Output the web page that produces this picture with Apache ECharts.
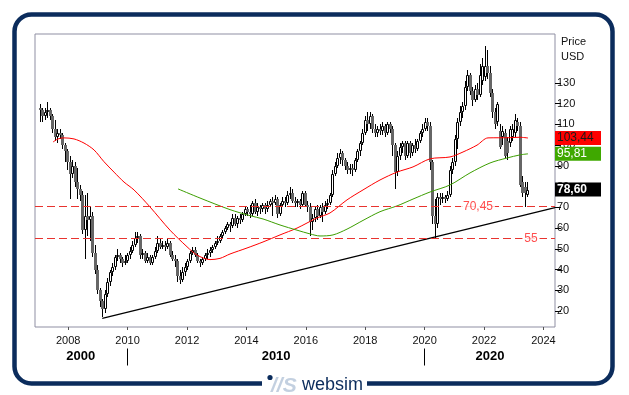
<!DOCTYPE html>
<html><head><meta charset="utf-8">
<script src="https://cdn.jsdelivr.net/npm/echarts@6/dist/echarts.min.js"></script>
<style>html,body{margin:0;padding:0;background:#fff}#c{width:629px;height:395px}</style>
</head><body><div id="c"></div>
<script>
// ---- tick labels ----
const yearTicks = [2008, 2010, 2012, 2014, 2016, 2018, 2020, 2022, 2024];
const priceTicks = [20, 30, 40, 50, 60, 70, 80, 90, 100, 110, 120, 130];
const decadeLabels = ['2000', '2010', '2020'];
const decadePositions = [2008.42, 2015.0, 2022.2];
const decadeSeparators = [2010, 2020];

// ---- monthly candles, Jan 2007 .. Apr 2023 (index 0 = Jan 2007) ----
const opens = [
  118,117,114,116,117,114,108,104,106,105,100,97,
  92,86,90,82,79,76,59,66,64,66,48,40,
  30,25,21,28,34,39,41,46,47,45,43,44,
  47,49,52,55,56,47,48,44,46,43,46,49,
  53,51,52,51,53,47,45,44,37,35,39,41,
  44,48,49.5,47,44,43,45,47,48,49.5,51,53,
  54,56,58,60,62,61,65,62,65,64,67,69,
  68,67,72,68,70,69,71,69,71,73,72,74,
  67,71,73,72,76,77,73,72,73,71,77,71,
  70,63,65,69,66,70,68,71,72,76,86,90,
  94,96,93,90,88,89,88,93,97,101,106,112,
  110,114,108,106,108,107,109,106,110,108,100,87,
  95,99,101,95,101,96,100,98,102,106,108,111,
  109,92,66,62,75,74,75,74,76,88,92,103,
  111,116,119,128,134,126,122,127,124,131,133,138,
  135,125,116,111,107,104,106,102,101,104,106,111,
  109,82,80,76
];
const closes = [
  117,114,116,117,114,108,104,106,105,100,97,92,
  86,90,82,79,76,59,66,64,66,48,40,30,
  25,21,28,34,39,41,46,47,45,43,44,47,
  49,52,55,56,47,48,44,46,43,46,49,53,
  51,52,51,53,47,45,44,37,35,39,41,44,
  48,49.5,47,44,43,45,47,48,49.5,51,53,54,
  56,58,60,62,61,65,62,65,64,67,69,68,
  67,72,68,70,69,71,69,71,73,72,74,67,
  71,73,72,76,77,73,72,73,71,77,71,70,
  63,65,69,66,70,68,71,72,76,86,90,94,
  96,93,90,88,89,88,93,97,101,106,112,110,
  114,108,106,108,107,109,106,110,108,100,87,95,
  99,101,95,101,96,100,98,102,106,108,111,109,
  92,66,62,75,74,75,74,76,88,92,103,111,
  116,119,128,134,126,122,127,124,134,138,138,135,
  125,116,110,120,99,107,95,96,108,108,112,109,
  81,77,77,78.6
];
const lows = [
  111,111,112,113,112,106,102,101,103,98,92,88,
  74,84,80,74,73,57,45,56,54,46,38,28,
  22,17,19,27,32,37,40,44,43,41,42,43,
  45,48,51,53,45,45,43,43,42,42,45,48,
  50,50,49,50,46,44,41,34,33,34,37,40,
  43,47,46,43,41,42,44,45,46,48,50,52,
  53,55,57,59,58,60,61,60,62,63,66,66,
  65,66,67,66,67,68,67,68,70,66,71,65,
  66,70,70,71,74,72,70,70,69,70,70,68,
  56,59,63,64,65,63,67,69,71,75,85,89,
  91,90,88,86,86,85,87,92,95,100,105,107,
  108,106,104,104,105,105,104,105,106,95,79,85,
  93,96,93,94,94,95,96,97,101,104,107,107,
  88,62,55,60,71,72,72,73,75,86,90,98,
  109,113,117,126,124,119,121,122,123,129,131,132,
  123,113,108,109,98,100,94,93,99,102,104,107,
  80,75,70.3,75
];
const highs = [
  120,118,118,121,118,115,112,108,108,106,101,98,
  95,93,92,89,81,78,76,77,70,68,52,42,
  31,26,30,36,40,43,47,50,48,46,47,48,
  51,54,58,58,57,50,49,48,47,47,51,56,
  55,54,54,55,54,49,47,45,40,41,43,45,
  49,51,51,48,45,46,48,50,51,52,54,56,
  57,59,61,63,63,67,67,66,67,68,70,70,
  71,73,74,72,71,72,72,73,74,75,76,75,
  72,75,75,78,80,79,75,74,74,78,78,73,
  72,67,70,71,71,72,73,74,77,88,92,96,
  98,97,94,92,91,91,94,98,102,108,114,116,
  116,115,110,109,110,111,110,111,111,109,101,97,
  101,102,102,102,102,101,103,103,107,110,113,113,
  111,93,74,77,77,77,76,78,90,94,105,113,
  119,121,131,136,135,128,129,130,139,142,148,146,
  138,127,118,121,110,109,108,104,109,110,115,113,
  111,85,82,82
];

// ---- moving averages [month index, value] ----
const maRed = [
  [5.4,101.5],[7.4,103],[9.8,103.5],[13.8,103],[17.8,101],[21.8,97.7],[25.8,92],
  [29.8,87],[33.8,82.2],[37.8,78.4],[44.2,70.2],[52.2,59],[59,51],[63,47],
  [68.2,44.8],[72.2,45.4],[76.2,47.5],[83,50.4],[89.4,53.3],[96.2,56.7],[103,60],
  [111,64.9],[116.2,67.3],[123,73.6],[129.4,78.4],[136.2,83.2],[143,87],
  [149.4,89.5],[156.2,93.4],[164.2,94.3],[169.4,96.7],[175,100],[179.4,103.5],
  [188.2,103.6],[192.2,103.8],[195.4,103.44]
];
const maGreen = [
  [55.4,78.9],[64.2,74.5],[76.2,68.9],[84.2,66],[89.4,64.4],[96.2,61.5],[103,59],
  [108.2,57.2],[112.2,56.2],[117.4,56.7],[123,59.5],[129.4,63.7],[136.2,67.9],
  [143,70.7],[149.4,74],[156.2,77.4],[164.2,80.8],[172.2,86.6],[180.2,91.4],
  [187,93.8],[192.2,95.3],[195.4,95.81]
];
const trendLine = [[25.1,16.5],[206.2,69.9]];
const supportLevels = [70.45, 55];
const supportLabelPos = [175.4, 196.6];
const lastRed = 103.44;
const lastGreen = 95.81;
const lastClose = 78.60;

const FONT = '"Liberation Sans", Arial, sans-serif';
const fmt = v => v.toFixed(2).replace('.', ',');
const candles = opens.map((o, i) => [i, o, closes[i], lows[i], highs[i]]);

function renderCandle(params, api) {
  const xi = api.value(0);
  const pO = api.coord([xi, api.value(1)]);
  const pC = api.coord([xi, api.value(2)]);
  const pL = api.coord([xi, api.value(3)]);
  const pH = api.coord([xi, api.value(4)]);
  const n = Math.round(pO[0]);
  const xc = n + 0.5;
  const up = api.value(2) >= api.value(1);
  const top = Math.round(Math.min(pO[1], pC[1]));
  const bot = Math.max(Math.round(Math.max(pO[1], pC[1])), top + 1);
  const children = [{
    type: 'line', shape: {x1: xc, y1: Math.round(pH[1]), x2: xc, y2: Math.round(pL[1])},
    style: {stroke: '#000', lineWidth: 1}
  }];
  if (up) {
    children.push({type: 'rect', shape: {x: n - 0.5, y: top + 0.5, width: 2, height: Math.max(bot - top - 1, 1)},
      style: {fill: '#fff', stroke: '#000', lineWidth: 1}});
  } else {
    children.push({type: 'rect', shape: {x: n - 1, y: top, width: 3, height: bot - top},
      style: {fill: '#666666'}});
  }
  return {type: 'group', children};
}

const boxLabel = (text, bg, fg, bold) => ({
  show: true, position: 'end', distance: 0, formatter: text,
  backgroundColor: bg, color: fg, fontSize: 12, fontFamily: FONT,
  fontWeight: bold ? 'bold' : 'normal', padding: [1, 4, 0, 2], width: 40, lineHeight: 13
});
const hiddenLine = {color: 'rgba(0,0,0,0)', width: 1, type: 'solid'};

const chart = echarts.init(document.getElementById('c'), null, {renderer: 'canvas'});
chart.setOption({
  animation: false,
  backgroundColor: '#fff',
  textStyle: {fontFamily: FONT},
  grid: {left: 35, top: 34, width: 520, height: 293, show: true, borderColor: '#8f8fa3', borderWidth: 1,
    outerBoundsMode: 'none'},
  xAxis: [
    {type: 'value', min: 2006.882, max: 2024.39, position: 'bottom',
      axisLine: {show: false, onZero: false}, splitLine: {show: false},
      axisTick: {show: true, customValues: yearTicks, length: 3, lineStyle: {color: '#555'}},
      axisLabel: {customValues: yearTicks, margin: 8, fontSize: 11, color: '#111', fontFamily: FONT,
        formatter: v => String(Math.round(v))}},
    {type: 'value', min: -1.8, max: 206.2, position: 'top', show: false,
      axisLine: {onZero: false}},
    {type: 'value', min: 2006.882, max: 2024.39, position: 'bottom', offset: 21.5,
      axisLine: {show: false, onZero: false}, splitLine: {show: false},
      axisTick: {show: true, customValues: decadeSeparators, length: 17, lineStyle: {color: '#000', width: 1}},
      axisLabel: {customValues: decadePositions, margin: 1, fontSize: 13, fontWeight: 'bold', color: '#000',
        fontFamily: FONT,
        formatter: v => {
          let best = 0;
          decadePositions.forEach((p, i) => { if (Math.abs(p - v) < Math.abs(decadePositions[best] - v)) best = i; });
          return decadeLabels[best];
        }}}
  ],
  yAxis: {type: 'value', position: 'right', min: 12.3, max: 153.6,
    axisLine: {show: false, onZero: false}, splitLine: {show: false},
    axisTick: {show: true, customValues: priceTicks, length: 6, lineStyle: {color: '#000'}},
    axisLabel: {customValues: priceTicks, margin: 2, fontSize: 11, color: '#111', fontFamily: FONT}},
  series: [
    {name: 'trend', type: 'line', xAxisIndex: 1, data: trendLine, showSymbol: false, z: 2,
      lineStyle: {color: '#000', width: 1.3}, silent: true,
      markLine: {symbol: ['none', 'none'], silent: true, animation: false,
        data: [
          ...supportLevels.map(v => ({yAxis: v, lineStyle: {type: [8, 4], color: '#e8332f', width: 1},
            label: {show: false}})),
          {yAxis: lastClose, lineStyle: hiddenLine, label: boxLabel(fmt(lastClose), '#000', '#fff', true)}
        ]}},
    {name: 'candles', type: 'custom', xAxisIndex: 1, data: candles, renderItem: renderCandle, z: 3,
      encode: {x: 0, y: [1, 2, 3, 4]}, clip: true, silent: true},
    {name: 'maRed', type: 'line', xAxisIndex: 1, data: maRed, showSymbol: false, smooth: 0.3, z: 4, silent: true,
      lineStyle: {color: '#ff0000', width: 1},
      markLine: {symbol: ['none', 'none'], silent: true, animation: false,
        data: [{yAxis: lastRed, lineStyle: hiddenLine, label: boxLabel(fmt(lastRed), '#ff0000', '#1a1a1a', false)}]}},
    {name: 'maGreen', type: 'line', xAxisIndex: 1, data: maGreen, showSymbol: false, smooth: 0.3, z: 4, silent: true,
      lineStyle: {color: '#3c9e00', width: 1},
      markLine: {symbol: ['none', 'none'], silent: true, animation: false,
        data: [{yAxis: lastGreen, lineStyle: hiddenLine, label: boxLabel(fmt(lastGreen), '#3fa800', '#fff', false)}]}},
    {name: 'levelLabels', type: 'scatter', xAxisIndex: 1, z: 6, silent: true,
      symbolSize: 1, itemStyle: {color: 'rgba(0,0,0,0)'},
      data: supportLevels.map((v, i) => [supportLabelPos[i], v, String(v).replace('.', ',')]),
      label: {show: true, position: 'inside', formatter: p => p.data[2], color: '#ff2020', fontSize: 12,
        fontFamily: FONT, backgroundColor: '#fff', padding: [0, 2]}}
  ],
  graphic: [
    {type: 'rect', z: 1, shape: {x: 14.5, y: 14.5, width: 598, height: 369, r: 17},
      style: {fill: 'none', stroke: '#0b2c5c', lineWidth: 4.5}},
    {type: 'rect', z: 2, shape: {x: 262, y: 377, width: 105, height: 14}, style: {fill: '#fff'}},
    {type: 'circle', z: 3, shape: {cx: 270, cy: 377.5, r: 2.6}, style: {fill: '#0b2c5c'}},
    {type: 'text', z: 3, x: 271, y: 386, style: {text: '//S', fontSize: 21, fontStyle: 'italic', fontWeight: 'bold',
      fontFamily: FONT, fill: '#c3d0e0', verticalAlign: 'middle'}},
    {type: 'text', z: 3, x: 302, y: 385, style: {text: 'websim', fontSize: 18, fontFamily: FONT,
      fill: '#0b2c5c', verticalAlign: 'middle'}},
    {type: 'text', z: 3, x: 561, y: 41.5, style: {text: 'Price', fontSize: 11, fontFamily: FONT, fill: '#111', verticalAlign: 'middle'}},
    {type: 'text', z: 3, x: 561, y: 57, style: {text: 'USD', fontSize: 11, fontFamily: FONT, fill: '#111', verticalAlign: 'middle'}}
  ]
});
</script>
</body></html>
